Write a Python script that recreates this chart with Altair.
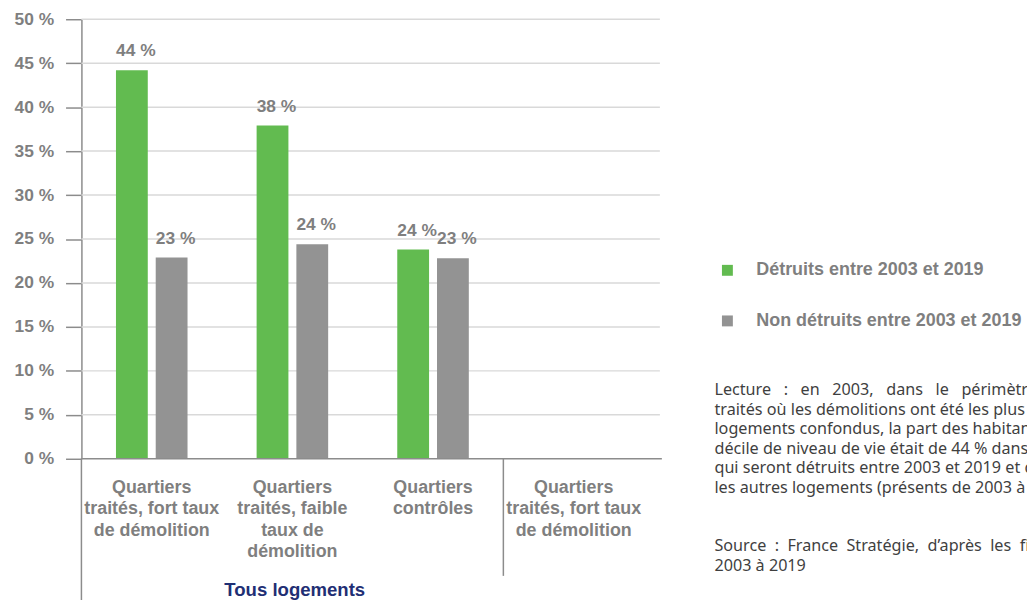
import altair as alt
import pandas as pd

# ---------------- data ----------------
categories = ["c1", "c2", "c3", "c4"]
category_labels = [
    ["Quartiers", "traités, fort taux", "de démolition"],
    ["Quartiers", "traités, faible", "taux de", "démolition"],
    ["Quartiers", "contrôles"],
    ["Quartiers", "traités, fort taux", "de démolition"],
]
series = ["Détruits entre 2003 et 2019", "Non détruits entre 2003 et 2019"]
detruits = [44.2, 37.9, 23.8]
non_detruits = [22.9, 24.4, 22.8]
labels_detruits = ["44 %", "38 %", "24 %"]
labels_non_detruits = ["23 %", "24 %", "23 %"]
y_ticks = [0, 5, 10, 15, 20, 25, 30, 35, 40, 45, 50]
group_label = "Tous logements"
group_start = ["c1", "c4"]
NB = "\u00a0"
note_lines = [
    "Lecture" + NB * 3 + ":" + NB * 3 + "en" + NB * 3 + "2003," + NB * 3 + "dans" + NB * 3 + "le" + NB * 3 + "périmètre" + NB * 3 + "des",
    "traités où les démolitions ont été les plus nombreuses,",
    "logements confondus, la part des habitants du premier",
    "décile de niveau de vie était de 44 % dans les logements",
    "qui seront détruits entre 2003 et 2019 et de 23 % dans",
    "les autres logements (présents de 2003 à 2019).",
]
source_lines = [
    "Source" + NB * 2 + ":" + NB * 2 + "France" + NB * 2 + "Stratégie," + NB * 2 + "d’après" + NB * 2 + "les" + NB * 2 + "fichiers",
    "2003 à 2019",
]

GREEN = "#62bb50"
GREY = "#939393"
TXT = "#7f7f7f"
AXIS = "#8c8c8c"
FONT = "Liberation Sans"
W, H = 581, 443

rows = []
for i, c in enumerate(categories[:3]):
    rows.append({"cat": c, "series": series[0], "value": detruits[i], "lab": labels_detruits[i]})
    rows.append({"cat": c, "series": series[1], "value": non_detruits[i], "lab": labels_non_detruits[i]})
df = pd.DataFrame(rows)


def arr(lst):
    return "[" + ",".join("'" + s + "'" for s in lst) + "]"


expr = arr(category_labels[-1])
for c, lab in reversed(list(zip(categories[:-1], category_labels[:-1]))):
    expr = f"datum.value == '{c}' ? {arr(lab)} : ({expr})"

x_scale = alt.Scale(domain=categories, range=[0, 567], paddingInner=0, paddingOuter=0)
y_scale = alt.Scale(domain=[0, 50], nice=False)
off_scale = alt.Scale(domain=series, paddingInner=0.2, paddingOuter=0.869)

x_enc = alt.X(
    "cat:N",
    scale=x_scale,
    axis=alt.Axis(
        title=None, labelExpr=expr, labelAngle=0, ticks=False, domain=False,
        labelFontSize=18, labelFontWeight="bold", labelColor=TXT, labelFont=FONT,
        labelLineHeight=21.5, labelPadding=20, labelLimit=0, labelBaseline="top",
    ),
)
y_enc = alt.Y(
    "value:Q",
    scale=y_scale,
    axis=alt.Axis(
        title=None, values=y_ticks, labelExpr="datum.value + ' %'", grid=False,
        domainColor=AXIS, domainWidth=1.5, tickColor=AXIS, tickSize=16, tickWidth=1.5,
        labelFontSize=17.5, labelFontWeight="bold", labelColor=TXT, labelFont=FONT,
        labelPadding=12,
    ),
)

base = alt.Chart(df)

grid = alt.Chart(pd.DataFrame({"t": y_ticks[1:]})).mark_rule(color="#d9d9d9", strokeWidth=1.5).encode(
    y=alt.Y("t:Q", scale=y_scale), x=alt.value(0), x2=alt.value(W + 2)
)

xline = alt.Chart(pd.DataFrame({"t": [0]})).mark_rule(color=AXIS, strokeWidth=1.5).encode(
    y=alt.Y("t:Q", scale=y_scale), x=alt.value(0), x2=alt.value(W + 4)
)

bars = base.mark_bar().encode(
    x=x_enc,
    xOffset=alt.XOffset("series:N", scale=off_scale),
    y=y_enc,
    color=alt.Color(
        "series:N",
        scale=alt.Scale(domain=series, range=[GREEN, GREY]),
        legend=alt.Legend(
            title=None, orient="none", legendX=642, legendY=244, symbolType="square",
            symbolSize=121, symbolStrokeWidth=0, labelFontSize=18.1, labelFontWeight="bold",
            labelColor=TXT, labelFont=FONT, labelOffset=20, rowPadding=32, labelLimit=0,
        ),
    ),
)

texts = base.mark_text(
    baseline="alphabetic", dy=-14, dx=4, fontSize=17.5, fontWeight="bold", color=TXT, font=FONT
).encode(
    x="cat:N",
    xOffset=alt.XOffset("series:N", scale=off_scale),
    y="value:Q",
    text="lab:N",
)

sep_df = pd.DataFrame({"cat": group_start})
sep1 = alt.Chart(sep_df.iloc[[0]]).mark_rule(color=AXIS, strokeWidth=1.5).encode(
    x=alt.X("cat:N", bandPosition=0), y=alt.value(H), y2=alt.value(H + 145)
)
sep2 = alt.Chart(sep_df.iloc[[1]]).mark_rule(color=AXIS, strokeWidth=1.5).encode(
    x=alt.X("cat:N", bandPosition=0), y=alt.value(H), y2=alt.value(H + 118)
)

group = alt.Chart(pd.DataFrame({"t": [group_label]})).mark_text(
    fontSize=18.7, fontWeight="bold", color="#1f2f74", font=FONT, baseline="middle"
).encode(x=alt.value(215), y=alt.value(575), text="t:N")

note = alt.Chart(pd.DataFrame({"t": [note_lines]})).mark_text(
    align="left", baseline="alphabetic", fontSize=16.3, lineHeight=19.7, color="#3f3f3f", font="Noto Sans"
).encode(x=alt.value(638), y=alt.value(379), text="t")

source = alt.Chart(pd.DataFrame({"t": [source_lines]})).mark_text(
    align="left", baseline="alphabetic", fontSize=16.3, lineHeight=21, color="#3f3f3f", font="Noto Sans"
).encode(x=alt.value(638), y=alt.value(535.5), text="t")

chart = (
    alt.layer(grid, bars, texts, xline, sep1, sep2, group, note, source)
    .properties(
        width=W, height=H,
        autosize=alt.AutoSizeParams(type="none"),
        padding={"left": 74, "top": 9, "right": 372, "bottom": 140},
    )
    .configure_view(stroke=None)
)

chart.save("out.html", embed_options={"renderer": "svg", "actions": False})
